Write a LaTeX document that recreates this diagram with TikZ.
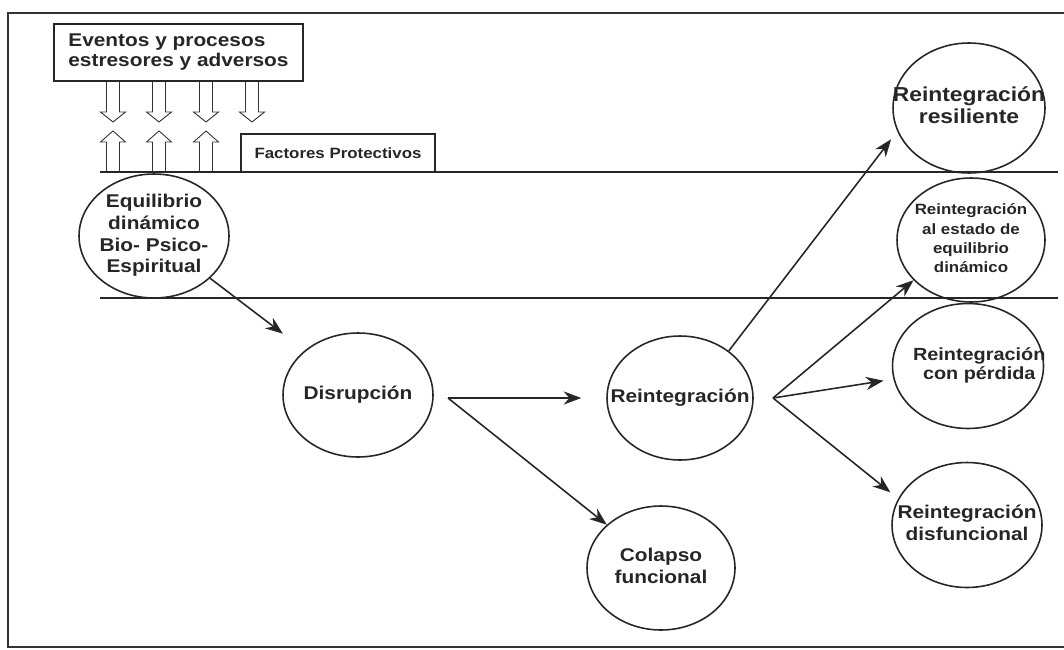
\documentclass[tikz,border=0pt]{standalone}
\usepackage{fontspec}
\setmainfont{Liberation Sans}[FakeStretch=1.13]
\usetikzlibrary{shapes.geometric, arrows.meta, positioning}

\newcommand{\inbub}[1]{\makebox[0pt]{\begin{tabular}{@{}c@{}}#1\end{tabular}}}

\begin{document}
\begin{tikzpicture}[
    x=0.02cm, y=-0.02cm,
    bub/.style={ellipse, draw=black!85, line width=0.9pt, minimum width=3cm, minimum height=2.48cm, inner sep=0pt, text=black!85, font=\fontsize{10.5}{12.3}\selectfont\bfseries},
    box/.style={rectangle, draw=black!85, line width=0.9pt, inner sep=0pt, text=black!85, font=\fontsize{10.5}{11.4}\selectfont\bfseries},
    arrow/.style={-{Stealth[length=10pt,width=7.5pt]}, line width=0.9pt, draw=black!85},
    hollow/.style={draw=black!80, line width=0.5pt}
]
\useasboundingbox (0,0) rectangle (1064,649);
% frame and bands
\draw[line width=1.2pt, black!80] (1064,13) -- (8,13) -- (8,647) -- (1064,647);
\draw[line width=1pt, black!85] (100,172) -- (1058,172);
\draw[line width=1pt, black!85] (100,298) -- (1058,298);

% stress events and protective factors
\node[box, minimum width=4.98cm, minimum height=1.14cm, align=left] (ev) at (178.5,52.5) {Eventos y procesos\\estresores y adversos};
\node[box, minimum width=3.88cm, minimum height=0.76cm, font=\fontsize{8.5}{10}\selectfont\bfseries] (fp) at (338,153) {Factores Protectivos};
\foreach \x in {113,159,206,252}
    \draw[hollow] (\x-6.5,81) -- (\x-6.5,112) -- (\x-12.5,112) -- (\x,122) -- (\x+12.5,112) -- (\x+6.5,112) -- (\x+6.5,81);
\foreach \x in {113,159,206}
    \draw[hollow] (\x-6.5,172) -- (\x-6.5,142) -- (\x-12.5,142) -- (\x,131) -- (\x+12.5,142) -- (\x+6.5,142) -- (\x+6.5,172);

% states
\node[bub] (eq) at (154,236) {\inbub{Equilibrio\\dinámico\\Bio- Psico-\\Espiritual}};
\node[bub] (dis) at (358,395) {\inbub{Disrupción}};
\node[bub, minimum width=2.92cm] (rein) at (680,398) {\inbub{Reintegración}};
\node[bub, minimum width=2.96cm] (col) at (661,568) {\inbub{Colapso\\funcional}};
\node[bub, minimum width=3.04cm, minimum height=2.6cm, font=\fontsize{11.5}{13}\selectfont\bfseries] (resil) at (969,108) {\inbub{Reintegración\\resiliente}};
\node[bub, minimum width=2.96cm, font=\fontsize{8.5}{11}\selectfont\bfseries] (eqd) at (971,240) {\inbub{Reintegración\\al estado de\\equilibrio\\dinámico}};
\node[bub, minimum width=3.02cm, minimum height=2.5cm, font=\fontsize{10}{11}\selectfont\bfseries] (perd) at (968,366) {\inbub{\raisebox{-0.2cm}{\hspace*{0.45cm}\begin{tabular}{@{}c@{}}Reintegración\\con pérdida\end{tabular}}}};
\node[bub, minimum height=2.5cm] (disf) at (967,525) {\inbub{Reintegración\\disfuncional}};

% fork points
\coordinate (fork1) at (448,398);
\coordinate (fork2) at (773,398);

% transitions
\draw[arrow, shorten >=0.55cm] (eq.-37) -- (dis.140);
\draw[arrow, shorten >=0.5cm] (fork1) -- (rein);
\draw[arrow] (fork1) -- (col);
\draw[arrow, shorten >=0.2cm] (rein.44) -- (resil.198);
\draw[arrow] (fork2) -- (eqd.215);
\draw[arrow, shorten >=0.2cm] (fork2) -- (perd.190);
\draw[arrow, shorten >=0.2cm] (fork2) -- (disf.159);
\end{tikzpicture}
\end{document}
